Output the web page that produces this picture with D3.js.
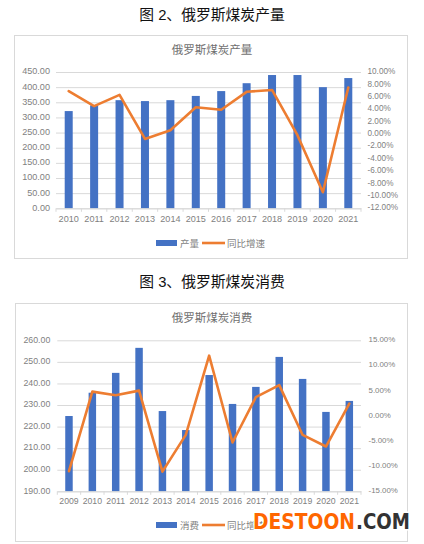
<!DOCTYPE html>
<html><head><meta charset="utf-8">
<script src="https://cdn.jsdelivr.net/npm/d3@7/dist/d3.min.js"></script>
<style>
html,body{margin:0;padding:0;background:#fff;overflow:hidden}
text{font-family:"Liberation Sans","Noto Sans CJK SC",sans-serif}
</style></head><body>
<svg id="c" width="424" height="544"></svg>
<script>
const years1 = ["2010","2011","2012","2013","2014","2015","2016","2017","2018","2019","2020","2021"];
const output = [321,340,357,354,357,371,387,413,440,440,400,430];
const outputGrowth = [6.9,4.5,6.3,-0.8,0.6,4.3,3.9,6.8,7.1,-0.2,-9.4,7.5];
const ticksL1 = [0,50,100,150,200,250,300,350,400,450];
const ticksR1 = [-12,-10,-8,-6,-4,-2,0,2,4,6,8,10];

const years2 = ["2009","2010","2011","2012","2013","2014","2015","2016","2017","2018","2019","2020","2021"];
const consumption = [224.9,235.7,244.9,256.5,227.2,218.4,243.9,230.5,238.4,252.3,242.1,226.8,231.9];
const consumptionGrowth = [-11,4.8,4.1,5,-11.1,-3.8,11.95,-5.3,3.7,6.1,-3.8,-6.1,2.4];
const ticksL2 = [190,200,210,220,230,240,250,260];
const ticksR2 = [-15,-10,-5,0,5,10,15];

const svg = d3.select("#c");
const GREY = "#7f7f7f", GRID = "#d9d9d9", BLUE = "#4472c4", ORANGE = "#ed7d31";

function panel(o){
  svg.append("text").attr("x",212).attr("y",o.headY).attr("text-anchor","middle")
    .attr("font-size",14.8).attr("fill","#111").attr("font-family","'Noto Sans CJK SC'").text(o.head);
  svg.append("rect").attr("x",o.fx+.5).attr("y",o.fy+.5).attr("width",o.fw).attr("height",o.fh)
    .attr("fill","#fff").attr("stroke","#d9d9d9");
  svg.append("text").attr("x",212).attr("y",o.fy+19).attr("text-anchor","middle")
    .attr("font-size",11.5).attr("fill","#6f6f6f").attr("font-family","'Noto Sans CJK SC'").text(o.title);

  const x = d3.scaleBand().domain(o.cats).range([o.l,o.r]).paddingInner(o.pad).paddingOuter(o.pad/2);
  const y = d3.scaleLinear().domain(d3.extent(o.ticksL)).range([o.b,o.t]);
  const y2 = d3.scaleLinear().domain(d3.extent(o.ticksR)).range([o.b,o.t]);

  const gl = svg.append("g").attr("transform",`translate(${o.l},0)`)
    .call(d3.axisLeft(y).tickValues(o.ticksL).tickSize(0).tickPadding(o.lp).tickFormat(d3.format(".2f")));
  gl.select(".domain").remove();
  gl.selectAll("line").clone().attr("x1",0).attr("x2",o.r-o.l).attr("stroke",GRID);
  gl.selectAll("text").attr("fill",GREY).attr("font-size",o.fsL).attr("y",-1).style("font-family","'Liberation Sans'");

  const gr = svg.append("g").attr("transform",`translate(${o.r},0)`)
    .call(d3.axisRight(y2).tickValues(o.ticksR).tickSize(0).tickPadding(o.rp).tickFormat(d=>d.toFixed(2)+"%"));
  gr.select(".domain").remove();
  gr.selectAll("text").attr("fill",GREY).attr("font-size",o.fsR).attr("y",-1).style("font-family","'Liberation Sans'");

  svg.append("g").selectAll("rect").data(o.vals).join("rect")
    .attr("x",(d,i)=>x(o.cats[i])).attr("width",x.bandwidth())
    .attr("y",d=>y(d)).attr("height",d=>o.b-y(d)).attr("fill",BLUE);

  const gx = svg.append("g").attr("transform",`translate(0,${o.b})`)
    .call(d3.axisBottom(x).tickSizeOuter(0).tickSize(0).tickPadding(7));
  gx.select(".domain").attr("stroke",GRID);
  gx.selectAll("text").attr("fill",GREY).attr("font-size",o.fsX).style("font-family","'Liberation Sans'");
  const edges = d3.range(o.cats.length+1).map(i=>i===o.cats.length? o.r : x(o.cats[i])-x.step()*o.pad/2);
  gx.selectAll("line.e").data(edges).join("line").attr("class","e")
    .attr("x1",d=>d).attr("x2",d=>d).attr("y1",0).attr("y2",3.5).attr("stroke",GRID);

  const line = d3.line().x((d,i)=>x(o.cats[i])+x.bandwidth()/2).y(d=>y2(d));
  svg.append("path").attr("d",line(o.growth)).attr("fill","none").attr("stroke",ORANGE)
    .attr("stroke-width",2.6).attr("stroke-linejoin","round").attr("stroke-linecap","round");

  const ly = o.legY;
  svg.append("rect").attr("x",156).attr("y",ly-3).attr("width",21).attr("height",6).attr("fill",BLUE);
  svg.append("text").attr("x",180).attr("y",ly+4).attr("font-size",9.5).attr("fill",GREY)
    .attr("font-family","'Noto Sans CJK SC'").text(o.barName);
  svg.append("line").attr("x1",202).attr("x2",225).attr("y1",ly).attr("y2",ly)
    .attr("stroke",ORANGE).attr("stroke-width",2.6);
  svg.append("text").attr("x",227).attr("y",ly+4).attr("font-size",9.5).attr("fill",GREY)
    .attr("font-family","'Noto Sans CJK SC'").text(o.lineName);
}

panel({head:"图 2、俄罗斯煤炭产量",headY:20,title:"俄罗斯煤炭产量",fx:14,fy:35,fw:393,fh:223,
  cats:years1,vals:output,growth:outputGrowth,ticksL:ticksL1,ticksR:ticksR1,
  l:56,r:361,t:72,b:208.3,pad:0.685,legY:243,barName:"产量",lineName:"同比增速",
  fsL:9.1,fsR:8.2,fsX:9.1,lp:6,rp:6.5});
panel({head:"图 3、俄罗斯煤炭消费",headY:287,title:"俄罗斯煤炭消费",fx:15,fy:303,fw:392,fh:238,
  cats:years2,vals:consumption,growth:consumptionGrowth,ticksL:ticksL2,ticksR:ticksR2,
  l:57.3,r:361,t:340.3,b:491.3,pad:0.68,legY:525,barName:"消费",lineName:"同比增速",
  fsL:8.8,fsR:7.9,fsX:8.7,lp:7,rp:7.5});

const wmStyle = s => s.attr("y",529).attr("font-size",22).attr("font-weight","bold")
  .style("font-family","'DejaVu Sans'").attr("lengthAdjust","spacingAndGlyphs")
  .attr("stroke","#fff").attr("stroke-width",3).attr("paint-order","stroke").attr("stroke-linejoin","round");
svg.append("text").call(wmStyle).attr("x",253).attr("textLength",102).attr("fill","#ff6600").text("DESTOON");
svg.append("text").call(wmStyle).attr("x",356).attr("textLength",54).attr("fill","#333333").text(".COM");
</script>
</body></html>
